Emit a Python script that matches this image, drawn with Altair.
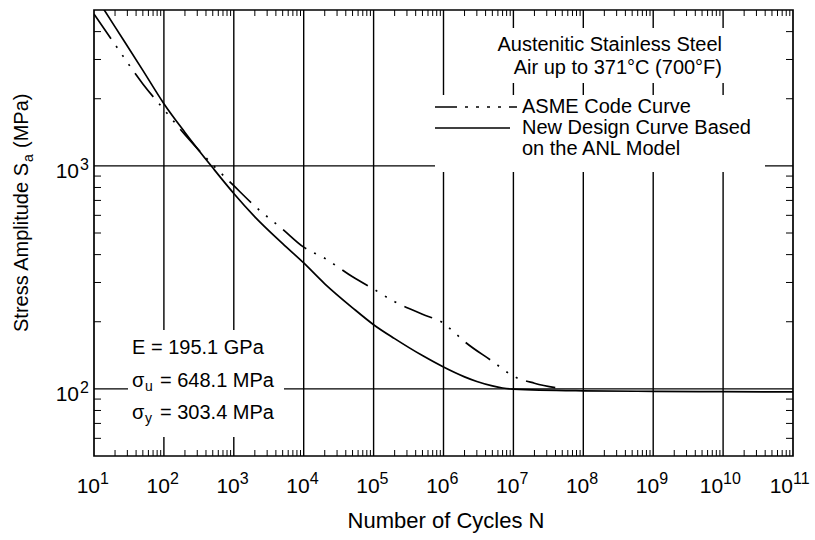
import altair as alt
import pandas as pd

# ---------------- data ----------------
asme_N = [10, 20, 50, 100, 200, 500, 1e3, 2e3, 5e3, 1e4, 2e4, 5e4, 1e5, 2e5, 5e5,
          1e6, 1.4e6, 2e6, 5e6, 1e7, 2e7, 5e7]
asme_S = [4800, 3500, 2330, 1790, 1380, 1010, 815, 660, 520, 432, 385, 318, 280, 246, 216,
          197, 180, 163, 133, 114, 106, 100]

anl_N = [10, 20, 50, 100, 200, 500, 1e3, 2e3, 5e3, 1e4, 2e4, 5e4, 1e5, 2e5, 5e5,
         1e6, 2e6, 3e6, 5e6, 7e6, 1e7, 1e8, 1e9, 1e10, 1e11]
anl_S = [5900, 4200, 2680, 1900, 1413, 980, 752, 591, 448, 367, 296, 231, 194, 168, 141,
         125.3, 113.2, 107.9, 103.1, 100.9, 99.7, 98, 97.5, 97.2, 96.9]

x_exponents = [1, 2, 3, 4, 5, 6, 7, 8, 9, 10, 11]
y_exponents = [2, 3]
x_grid = [1e2, 1e3, 1e4, 1e5, 1e6, 1e7, 1e8, 1e9, 1e10]
y_grid = [100, 1000]
x_minor = [m * 10 ** e for e in range(1, 11) for m in range(2, 10)]
y_minor = [m * 10 ** e for e in (1, 2, 3) for m in range(2, 10) if 50 < m * 10 ** e < 5000]

title_lines = ["Austenitic Stainless Steel", "Air up to 371°C (700°F)"]
legend_labels = ["ASME Code Curve", "New Design Curve Based", "on the ANL Model"]

W, H = 699, 446
FONT = "Liberation Sans"

xs = alt.Scale(type="log", domain=[10, 1e11], nice=False)
ys = alt.Scale(type="log", domain=[50, 5000], nice=False)

one = pd.DataFrame({"d": [0]})


def txt(text, x, y, size=20, align="left", baseline="middle", angle=0):
    kw = dict(text=text, fontSize=size, align=align, baseline=baseline, font=FONT, color="black")
    if angle:
        kw["angle"] = angle
    return alt.Chart(one).mark_text(**kw).encode(x=alt.value(x), y=alt.value(y))


def box(x0, x1, y0, y1):
    return alt.Chart(one).mark_rect(fill="white", stroke=None).encode(
        x=alt.value(x0), x2=alt.value(x1), y=alt.value(y0), y2=alt.value(y1))


# grid
gx = alt.Chart(pd.DataFrame({"N": x_grid})).mark_rule(color="black", strokeWidth=1.4).encode(
    x=alt.X("N:Q", scale=xs, axis=None), y=alt.value(0), y2=alt.value(H))
gy = alt.Chart(pd.DataFrame({"S": y_grid})).mark_rule(color="black", strokeWidth=1.4).encode(
    y=alt.Y("S:Q", scale=ys, axis=None), x=alt.value(0), x2=alt.value(W))

# white boxes behind annotations
boxes = [box(391, 641, 18, 73), box(341, 671, 85, 162), box(34, 190, 320, 427)]

# curves
asme_df = pd.DataFrame({"N": asme_N, "S": asme_S})
anl_df = pd.DataFrame({"N": anl_N, "S": anl_S})
asme = alt.Chart(asme_df).mark_line(color="black", strokeWidth=1.7, clip=True,
                                    interpolate="monotone",
                                    strokeDash=[30, 9, 2, 9, 2, 9, 2, 9]).encode(
    x=alt.X("N:Q", scale=xs, axis=None), y=alt.Y("S:Q", scale=ys, axis=None))
anl = alt.Chart(anl_df).mark_line(color="black", strokeWidth=1.7, clip=True,
                                  interpolate="monotone").encode(
    x=alt.X("N:Q", scale=xs, axis=None), y=alt.Y("S:Q", scale=ys, axis=None))

# minor ticks (inward)
xm = pd.DataFrame({"N": x_minor})
ym = pd.DataFrame({"S": y_minor})
tb = alt.Chart(xm).mark_rule(color="black", strokeWidth=1).encode(
    x=alt.X("N:Q", scale=xs, axis=None), y=alt.value(H), y2=alt.value(H - 6))
tt = alt.Chart(xm).mark_rule(color="black", strokeWidth=1).encode(
    x=alt.X("N:Q", scale=xs, axis=None), y=alt.value(0), y2=alt.value(6))
tl = alt.Chart(ym).mark_rule(color="black", strokeWidth=1).encode(
    y=alt.Y("S:Q", scale=ys, axis=None), x=alt.value(0), x2=alt.value(7))
tr = alt.Chart(ym).mark_rule(color="black", strokeWidth=1).encode(
    y=alt.Y("S:Q", scale=ys, axis=None), x=alt.value(W), x2=alt.value(W - 7))

# x tick labels: 10^n
xl = pd.DataFrame({"e": x_exponents})
xl_base = alt.Chart(xl).transform_calculate(N="pow(10, datum.e)", ex="toString(datum.e)")
x_base1 = xl_base.transform_filter("datum.e < 10").mark_text(
    text="10", fontSize=21, align="right", baseline="middle", dx=6, font=FONT, color="black").encode(
    x=alt.X("N:Q", scale=xs, axis=None), y=alt.value(477))
x_exp1 = xl_base.transform_filter("datum.e < 10").mark_text(
    fontSize=16, align="left", baseline="middle", dx=6, font=FONT, color="black").encode(
    x=alt.X("N:Q", scale=xs, axis=None), y=alt.value(469), text="ex:N")
x_base2 = xl_base.transform_filter("datum.e >= 10").mark_text(
    text="10", fontSize=21, align="right", baseline="middle", dx=0, font=FONT, color="black").encode(
    x=alt.X("N:Q", scale=xs, axis=None), y=alt.value(477))
x_exp2 = xl_base.transform_filter("datum.e >= 10").mark_text(
    fontSize=16, align="left", baseline="middle", dx=0, font=FONT, color="black").encode(
    x=alt.X("N:Q", scale=xs, axis=None), y=alt.value(469), text="ex:N")

# y tick labels
yl = alt.Chart(pd.DataFrame({"e": y_exponents})).transform_calculate(
    S="pow(10, datum.e)", ex="toString(datum.e)")
y_base = yl.mark_text(text="10", fontSize=21, align="right", baseline="middle", dy=6,
                      font=FONT, color="black").encode(
    y=alt.Y("S:Q", scale=ys, axis=None), x=alt.value(-15))
y_exp = yl.mark_text(fontSize=16, align="left", baseline="middle", dy=-1,
                     font=FONT, color="black").encode(
    y=alt.Y("S:Q", scale=ys, axis=None), x=alt.value(-14), text="ex:N")

# axis titles
x_title = txt("Number of Cycles N", 352, 511, size=22, align="center")
y_t1 = txt("Stress Amplitude S", -72, 153, size=20, align="right", angle=270)
y_t2 = txt("a", -65, 148, size=14, align="center", angle=270)
y_t3 = txt("(MPa)", -72, 138, size=20, align="left", angle=270)

# title block
t1 = txt(title_lines[0], 628, 35, size=20, align="right")
t2 = txt(title_lines[1], 628, 58, size=20, align="right")

# legend block
leg_asme = alt.Chart(one).mark_rule(color="black", strokeWidth=1.6,
                                    strokeDash=[22, 8, 3, 8, 3, 8, 3, 8, 3, 8]).encode(
    x=alt.value(341), x2=alt.value(423), y=alt.value(97))
leg_anl = alt.Chart(one).mark_rule(color="black", strokeWidth=1.6).encode(
    x=alt.value(341), x2=alt.value(416), y=alt.value(118))
l1 = txt(legend_labels[0], 428, 97, size=20)
l2 = txt(legend_labels[1], 428, 118, size=20)
l3 = txt(legend_labels[2], 428, 139, size=20)

# material properties
p1 = txt("E = 195.1 GPa", 38, 338, size=20)
p2a = txt("σ", 38, 371, size=20)
p2b = txt("u", 51, 377, size=14)
p2c = txt("= 648.1 MPa", 66, 371, size=20)
p3a = txt("σ", 38, 403, size=20)
p3b = txt("y", 51, 409, size=14)
p3c = txt("= 303.4 MPa", 66, 403, size=20)

chart = alt.layer(
    gx, gy, *boxes, anl, asme, tb, tt, tl, tr,
    x_base1, x_exp1, x_base2, x_exp2, y_base, y_exp,
    x_title, y_t1, y_t2, y_t3, t1, t2,
    leg_asme, leg_anl, l1, l2, l3,
    p1, p2a, p2b, p2c, p3a, p3b, p3c,
).properties(
    width=W, height=H,
    autosize=alt.AutoSizeParams(type="none"),
    padding={"left": 94, "top": 10, "right": 22, "bottom": 84},
    background="white",
).configure_view(stroke="black", strokeWidth=1.7)

chart.save("out.html", embed_options={"renderer": "svg", "actions": False})
